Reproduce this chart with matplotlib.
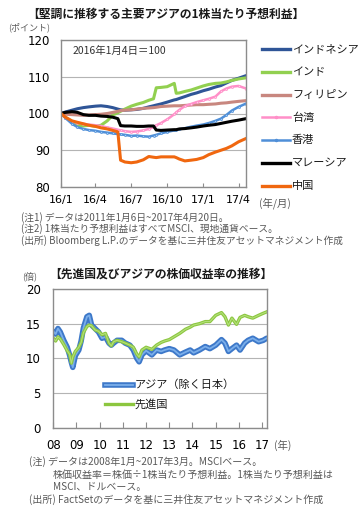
import numpy as np
import pandas as pd
import matplotlib
matplotlib.use('Agg')
import matplotlib.pyplot as plt
from matplotlib.lines import Line2D

plt.rcParams['font.family'] = ['Noto Sans CJK JP', 'DejaVu Sans']

# ---- top chart: EPS forecast index (2016/1/4 = 100)
dates = ['2016-01-04', '2016-01-15', '2016-02-01', '2016-02-15', '2016-03-01', '2016-03-15',
         '2016-04-01', '2016-04-15', '2016-05-01', '2016-05-15', '2016-05-28', '2016-06-04',
         '2016-06-15', '2016-07-01', '2016-07-15', '2016-08-01', '2016-08-15', '2016-08-27',
         '2016-09-03', '2016-09-15', '2016-10-01', '2016-10-19', '2016-10-24', '2016-11-01',
         '2016-11-15', '2016-12-01', '2016-12-15', '2017-01-01', '2017-01-15', '2017-02-01',
         '2017-02-15', '2017-03-01', '2017-03-15', '2017-04-01', '2017-04-20']
indonesia = [100.0, 100.4, 100.9, 101.3, 101.6, 101.8, 102.0, 102.1, 101.9, 101.6, 101.2, 101.0,
             100.9, 101.0, 101.1, 101.4, 101.8, 102.1, 102.3, 102.6, 103.1, 103.7, 103.8, 104.1,
             104.6, 105.2, 105.6, 106.2, 106.6, 107.2, 107.6, 108.3, 109.0, 109.6, 110.3]
india = [100.0, 99.0, 97.8, 96.8, 96.6, 96.8, 96.5, 96.8, 98.0, 99.6, 100.2, 100.6,
         101.2, 102.0, 102.5, 103.0, 103.6, 104.0, 107.0, 107.1, 107.3, 108.2, 105.5, 105.6,
         106.0, 106.4, 106.9, 107.5, 107.9, 108.2, 108.3, 108.6, 109.0, 109.4, 109.7]
philippines = [100.0, 99.8, 99.7, 99.6, 99.5, 99.6, 99.7, 99.8, 100.0, 100.3, 100.6, 100.8,
               100.9, 101.0, 101.2, 101.4, 101.5, 101.6, 101.7, 101.9, 102.0, 102.1, 102.1, 102.1,
               102.2, 102.3, 102.4, 102.4, 102.5, 102.6, 102.8, 102.9, 103.1, 103.3, 103.5]
taiwan = [100.0, 98.8, 97.8, 97.5, 97.2, 97.0, 96.8, 96.6, 96.2, 95.9, 95.6, 95.4,
          95.2, 95.0, 95.1, 95.4, 95.8, 96.3, 96.8, 97.4, 98.4, 99.8, 100.3, 101.0,
          102.0, 102.6, 103.1, 103.6, 104.0, 104.6, 106.0, 106.8, 107.3, 107.5, 106.8]
hongkong = [100.0, 98.8, 97.2, 96.3, 95.8, 95.5, 95.3, 95.0, 94.8, 94.6, 94.4, 94.3,
            94.2, 93.9, 94.0, 93.8, 93.7, 94.0, 94.2, 94.6, 95.0, 95.4, 95.5, 95.7,
            96.0, 96.4, 96.7, 97.0, 97.4, 98.0, 98.6, 99.6, 100.8, 101.8, 102.7]
malaysia = [100.0, 100.3, 100.5, 100.3, 99.7, 99.5, 99.5, 99.3, 99.2, 99.0, 98.6, 96.7,
            96.6, 96.6, 96.5, 96.5, 96.6, 96.6, 95.5, 95.4, 95.5, 95.6, 95.6, 95.8,
            95.9, 96.1, 96.3, 96.6, 96.8, 97.0, 97.3, 97.6, 97.9, 98.2, 98.6]
china = [100.0, 99.0, 98.0, 97.6, 97.2, 96.8, 96.5, 96.1, 95.8, 95.4, 95.0, 87.3,
         86.8, 86.6, 86.8, 87.4, 88.3, 88.1, 88.0, 88.2, 88.2, 88.2, 88.0, 87.6,
         87.1, 87.3, 87.5, 88.0, 88.8, 89.5, 90.0, 90.5, 91.2, 92.3, 93.2]
names = ['インドネシア', 'インド', 'フィリピン', '台湾', '香港', 'マレーシア', '中国']
xtick_dates = ['2016-01-04', '2016-04-01', '2016-07-01', '2016-10-01', '2017-01-01', '2017-04-01']
xtick_labels = ['16/1', '16/4', '16/7', '16/10', '17/1', '17/4']

# ---- bottom chart: PER
pe_t = [2008.0, 2008.1, 2008.2, 2008.3, 2008.45, 2008.6, 2008.7, 2008.78, 2008.84, 2008.95,
        2009.1, 2009.2, 2009.3, 2009.45, 2009.55, 2009.65, 2009.8, 2009.95, 2010.1, 2010.25,
        2010.4, 2010.5, 2010.6, 2010.75, 2010.95, 2011.1, 2011.3, 2011.45, 2011.6, 2011.7,
        2011.82, 2012.0, 2012.25, 2012.45, 2012.65, 2012.8, 2013.0, 2013.2, 2013.45, 2013.7,
        2013.9, 2014.05, 2014.3, 2014.55, 2014.75, 2015.0, 2015.25, 2015.4, 2015.55, 2015.7,
        2015.9, 2016.05, 2016.25, 2016.4, 2016.6, 2016.85, 2017.05, 2017.2]
pe_asia = [13.9, 13.5, 14.3, 13.8, 12.6, 11.6, 10.5, 9.4, 8.7, 10.4,
           11.2, 12.5, 14.4, 16.0, 16.2, 14.8, 14.3, 13.8, 12.9, 13.1,
           12.2, 11.9, 12.2, 12.6, 12.6, 12.2, 11.9, 11.2, 10.0, 9.5,
           10.5, 11.1, 10.5, 11.2, 11.0, 11.2, 11.4, 11.2, 10.5, 10.9,
           11.2, 10.8, 11.2, 11.7, 11.4, 11.9, 12.7, 12.2, 11.0, 11.4,
           11.9, 11.2, 12.2, 12.6, 12.9, 12.4, 12.6, 12.9]
pe_dev = [12.9, 12.5, 13.1, 12.8, 12.0, 11.1, 10.6, 9.3, 10.2, 11.0,
          11.6, 12.3, 13.7, 14.6, 14.8, 14.7, 14.1, 13.9, 13.4, 13.6,
          12.2, 11.8, 12.4, 12.6, 12.4, 12.2, 11.9, 11.6, 10.6, 10.2,
          11.2, 11.6, 11.3, 11.9, 12.3, 12.5, 12.7, 13.1, 13.6, 14.2,
          14.5, 14.8, 15.0, 15.3, 15.3, 16.2, 16.6, 16.0, 14.8, 15.8,
          14.9, 15.9, 16.2, 16.0, 15.8, 16.2, 16.5, 16.7]
pe_years = list(range(2008, 2018))
pe_labels = ['08', '09', '10', '11', '12', '13', '14', '15', '16', '17']

W, H = 360, 514
fig = plt.figure(figsize=(W / 100, H / 100), dpi=100)


def fx(px):
    return px / W


def fy(py):
    return 1 - py / H


grid_c = '#b4b4b4'
spine_c = '#8c8c8c'
note_c = '#595959'
num_font = 'DejaVu Sans'

# top chart
ax1 = fig.add_axes([fx(61), fy(187), 185 / W, 147 / H])
d = pd.to_datetime(dates)
cols = ['#2f5597', '#92d050', '#c8877f', '#ff8fc8', '#4f8fd8', '#000000', '#f0670f']
vals = [indonesia, india, philippines, taiwan, hongkong, malaysia, china]
mks = [None, None, None, '.', '.', None, None]
for v, c, m in zip(vals, cols, mks):
    if m:
        ax1.plot(d, v, color=c, lw=1.8, marker=m, ms=3, mfc='#ffd0e8' if c == '#ff8fc8' else '#a8cdf5',
                 mec=c, mew=0.5)
    else:
        ax1.plot(d, v, color=c, lw=2.2)
ax1.set_xlim(pd.Timestamp('2016-01-04'), pd.Timestamp('2017-04-20'))
ax1.set_ylim(80, 120)
ax1.set_yticks([80, 90, 100, 110, 120])
ax1.set_xticks(pd.to_datetime(xtick_dates))
ax1.set_xticklabels(xtick_labels)
ax1.yaxis.grid(True, color=grid_c, lw=0.8)
ax1.set_axisbelow(True)
ax1.tick_params(axis='y', length=0, pad=8, labelsize=8.5)
ax1.tick_params(axis='x', direction='in', length=3, color=spine_c, pad=6, labelsize=8)
for lab in ax1.get_xticklabels() + ax1.get_yticklabels():
    lab.set_family(num_font)
for s in ax1.spines.values():
    s.set_color(spine_c)
    s.set_linewidth(1)

# legend for top chart
for i, (n, c, m) in enumerate(zip(names, cols, mks)):
    y = fy(49 + i * 22.8)
    ln = Line2D([fx(262), fx(290)], [y, y], transform=fig.transFigure, color=c,
                lw=1.8 if m else 2.4)
    fig.add_artist(ln)
    if m:
        fig.add_artist(Line2D([fx(276)], [y], transform=fig.transFigure, marker='.', ms=3,
                              color=c))
    fig.text(fx(292), y, n, fontsize=8, va='center', ha='left', color='#1a1a1a')

fig.text(fx(27), fy(14), '【堅調に推移する主要アジアの1株当たり予想利益】', fontsize=8.5,
         fontweight='bold', va='center', ha='left', color='#1a1a1a')
fig.text(fx(8), fy(27), '(ポイント)', fontsize=6.5, va='center', ha='left', color=note_c)
fig.text(fx(73), fy(51), '2016年1月4日＝100', fontsize=7.5, va='center', ha='left', color='#333333')
fig.text(fx(259), fy(203), '(年/月)', fontsize=7.5, va='center', ha='left', color=note_c)
fig.text(fx(21), fy(218), '(注1) データは2011年1月6日~2017年4月20日。', fontsize=7,
         va='center', color=note_c)
fig.text(fx(21), fy(229), '(注2) 1株当たり予想利益はすべてMSCI、現地通貨ベース。', fontsize=7,
         va='center', color=note_c)
fig.text(fx(21), fy(241), '(出所) Bloomberg L.P.のデータを基に三井住友アセットマネジメント作成',
         fontsize=7, va='center', color=note_c)

# bottom chart
ax2 = fig.add_axes([fx(53.3), fy(427.7), 213.4 / W, 138.7 / H])
ax2.plot(pe_t, pe_asia, color='#3d78c9', lw=4, solid_capstyle='round')
ax2.plot(pe_t, pe_asia, color='#7aaeea', lw=1.3)
ax2.plot(pe_t, pe_dev, color='#8cc63f', lw=2.4)
ax2.plot(pe_t, pe_dev, color='#b2e07a', lw=0.8)
ax2.set_xlim(2008, 2017.2)
ax2.set_ylim(0, 20)
ax2.set_yticks([0, 5, 10, 15, 20])
ax2.set_xticks(pe_years)
ax2.set_xticklabels(pe_labels)
ax2.yaxis.grid(True, color=grid_c, lw=0.8)
ax2.set_axisbelow(True)
ax2.tick_params(axis='y', length=0, pad=9, labelsize=8.5)
ax2.tick_params(axis='x', direction='in', length=4, color=spine_c, pad=8, labelsize=8.5)
for lab in ax2.get_xticklabels() + ax2.get_yticklabels():
    lab.set_family(num_font)
for s in ax2.spines.values():
    s.set_color(spine_c)
    s.set_linewidth(1)

y = fy(385)
fig.add_artist(Line2D([fx(105), fx(133)], [y, y], transform=fig.transFigure, color='#3d78c9', lw=4))
fig.add_artist(Line2D([fx(105), fx(133)], [y, y], transform=fig.transFigure, color='#7aaeea', lw=1.3))
fig.text(fx(135), y, 'アジア（除く日本）', fontsize=8, va='center', color='#1a1a1a')
y = fy(404)
fig.add_artist(Line2D([fx(105), fx(133)], [y, y], transform=fig.transFigure, color='#8cc63f', lw=2.4))
fig.text(fx(135), y, '先進国', fontsize=8, va='center', color='#1a1a1a')

fig.text(fx(49), fy(274), '【先進国及びアジアの株価収益率の推移】', fontsize=8.5,
         fontweight='bold', va='center', ha='left', color='#1a1a1a')
fig.text(fx(22), fy(276), '(倍)', fontsize=6.5, va='center', ha='left', color=note_c)
fig.text(fx(274), fy(445), '(年)', fontsize=7.5, va='center', ha='left', color=note_c)
fig.text(fx(29), fy(462), '(注) データは2008年1月~2017年3月。MSCIベース。', fontsize=7.2,
         va='center', color=note_c)
fig.text(fx(53), fy(475), '株価収益率＝株価÷1株当たり予想利益。1株当たり予想利益は', fontsize=7.2,
         va='center', color=note_c)
fig.text(fx(53), fy(487), 'MSCI、ドルベース。', fontsize=7.2, va='center', color=note_c)
fig.text(fx(29), fy(500), '(出所) FactSetのデータを基に三井住友アセットマネジメント作成', fontsize=7.2,
         va='center', color=note_c)

fig.savefig('out.png', dpi=100)
